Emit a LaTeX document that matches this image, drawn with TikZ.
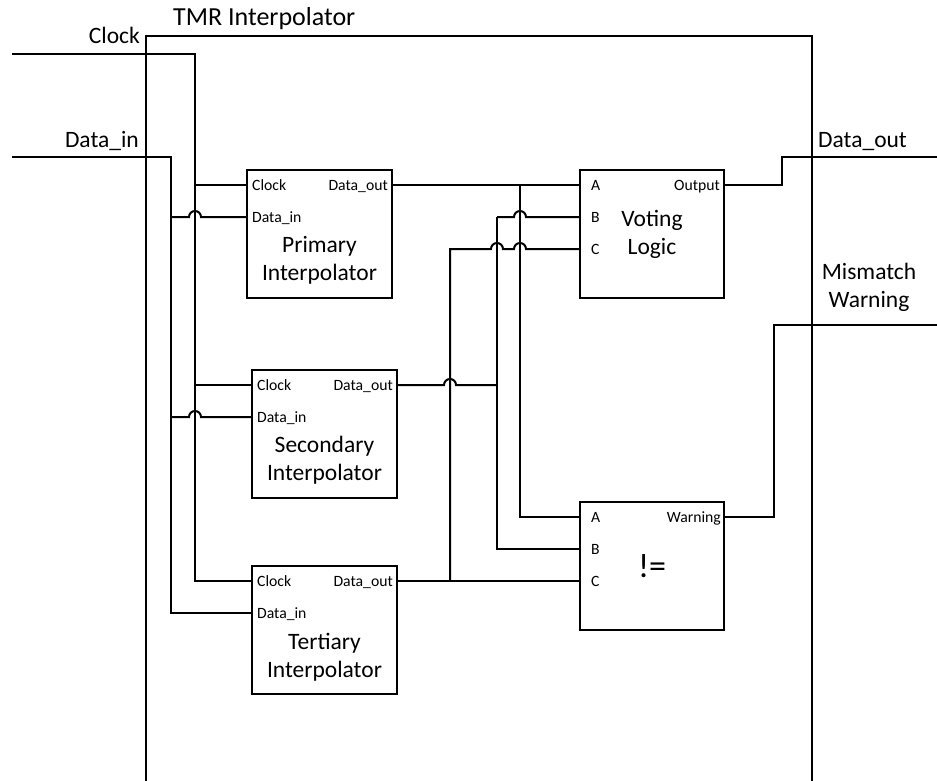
\documentclass[tikz,border=0pt]{standalone}
\usepackage{fontspec}
\setmainfont{Carlito}
\usepackage{tikz}
\usetikzlibrary{calc}
\tikzset{
    wire/.style={line width=2pt},
    block/.style={draw, line width=2pt, minimum width=145pt, minimum height=128pt, inner sep=0pt},
    port/.style={font=\fontsize{15.7}{18}\selectfont, inner sep=0pt},
    biglabel/.style={font=\fontsize{23.5}{28}\selectfont, inner sep=0pt, align=center},
    hop/.style={start angle=180, end angle=360, radius=6},
}

\begin{document}
\begin{tikzpicture}[x=1pt, y=-1pt]
    \useasboundingbox (0,0) rectangle (937,781);
    \draw[wire] (146,781) -- (146,36) -- (812,36) -- (812,781);
    \node[anchor=base west, inner sep=0pt, font=\fontsize{26}{30}\selectfont] (title) at (173,26) {TMR Interpolator};

    \node[block] (pri) at (319.5,234) {};
    \node[block] (sec) at (324.5,434) {};
    \node[block] (ter) at (324.5,630) {};
    \node[block, minimum width=144pt] (vote) at (652,234) {};
    \node[block, minimum width=144pt] (neq) at (652,566) {};

    \foreach \b in {pri,sec,ter} {
        \coordinate (\b-clk) at ($(\b.north west)+(0,16)$);
        \coordinate (\b-din) at ($(\b.north west)+(0,48)$);
        \coordinate (\b-dout) at ($(\b.north east)+(0,16)$);
        \node[port, anchor=base west] (\b-clk-txt) at ($(\b-clk)+(6,5)$) {Clock};
        \node[port, anchor=base west] (\b-din-txt) at ($(\b-din)+(6,5)$) {Data\_in};
        \node[port, anchor=base east] (\b-dout-txt) at ($(\b-dout)+(-5,5)$) {Data\_out};
    }
    \foreach \b in {vote,neq} {
        \coordinate (\b-a) at ($(\b.north west)+(0,16)$);
        \coordinate (\b-b) at ($(\b.north west)+(0,48)$);
        \coordinate (\b-c) at ($(\b.north west)+(0,80)$);
        \coordinate (\b-out) at ($(\b.north east)+(0,16)$);
        \node[port, anchor=base west] (\b-a-txt) at ($(\b-a)+(12,5)$) {A};
        \node[port, anchor=base west] (\b-b-txt) at ($(\b-b)+(12,5)$) {B};
        \node[port, anchor=base west] (\b-c-txt) at ($(\b-c)+(12,5)$) {C};
    }
    \node[port, anchor=base east] (vote-out-txt) at ($(vote-out)+(-5,5)$) {Output};
    \node[port, anchor=base east] (neq-out-txt) at ($(neq-out)+(-4,5)$) {Warning};

    \node[biglabel, anchor=base] (pri-txt) at ($(pri.north)+(0,111)$) {Primary\\Interpolator};
    \node[biglabel, anchor=base] (sec-txt) at ($(sec.north)+(0,111)$) {Secondary\\Interpolator};
    \node[biglabel, anchor=base] (ter-txt) at ($(ter.north)+(0,112)$) {Tertiary\\Interpolator};
    \node[biglabel, anchor=base] (vote-txt) at ($(vote.north)+(0,85)$) {Voting\\Logic};
    \node[inner sep=0pt, font=\fontsize{34}{40}\selectfont] (neq-txt) at (neq.center) {!=};

    \node[biglabel, anchor=base east] (clk-txt) at (140,44) {Clock};
    \node[biglabel, anchor=base east] (din-txt) at (139,147) {Data\_in};
    \node[biglabel, anchor=base west] (dout-txt) at (818,148) {Data\_out};
    \node[biglabel, anchor=base] (warn-txt) at (869,307) {Mismatch\\Warning};

    \coordinate (clk-in) at (12,54);
    \coordinate (din-in) at (12,157);
    \coordinate (clk-bus) at (195,54);
    \coordinate (din-bus) at (171,157);
    \coordinate (a-tap) at (520,0);
    \coordinate (b-tap) at (497,0);
    \coordinate (c-tap) at (450,0);
    \coordinate (dout-end) at (937,157);
    \coordinate (warn-end) at (937,325);

    \draw[wire] (clk-in) -- (clk-bus) -- (clk-bus |- ter-clk) -- (ter-clk);
    \draw[wire] (clk-bus |- pri-clk) -- (pri-clk);
    \draw[wire] (clk-bus |- sec-clk) -- (sec-clk);
    \draw[wire] (din-in) -- (din-bus) -- (din-bus |- ter-din) -- (ter-din);
    \draw[wire] (din-bus |- pri-din) -- ($(clk-bus |- pri-din)+(-6,0)$) arc[hop] -- (pri-din);
    \draw[wire] (din-bus |- sec-din) -- ($(clk-bus |- sec-din)+(-6,0)$) arc[hop] -- (sec-din);

    \draw[wire] (pri-dout) -- (vote-a);
    \draw[wire] (a-tap |- pri-dout) -- (a-tap |- neq-a) -- (neq-a);
    \draw[wire] (sec-dout) -- ($(c-tap |- sec-dout)+(-6,0)$) arc[hop] -- (b-tap |- sec-dout);
    \draw[wire] (b-tap |- vote-b) -- (b-tap |- neq-b) -- (neq-b);
    \draw[wire] (b-tap |- vote-b) -- ($(a-tap |- vote-b)+(-6,0)$) arc[hop] -- (vote-b);
    \draw[wire] (ter-dout) -- (neq-c);
    \draw[wire] (c-tap |- ter-dout) -- (c-tap |- vote-c) -- ($(b-tap |- vote-c)+(-6,0)$) arc[hop]
        -- ($(a-tap |- vote-c)+(-6,0)$) arc[hop] -- (vote-c);

    \draw[wire] (vote-out) -- ++(57,0) |- (dout-end);
    \draw[wire] (neq-out) -- ++(49,0) |- (warn-end);
\end{tikzpicture}
\end{document}
